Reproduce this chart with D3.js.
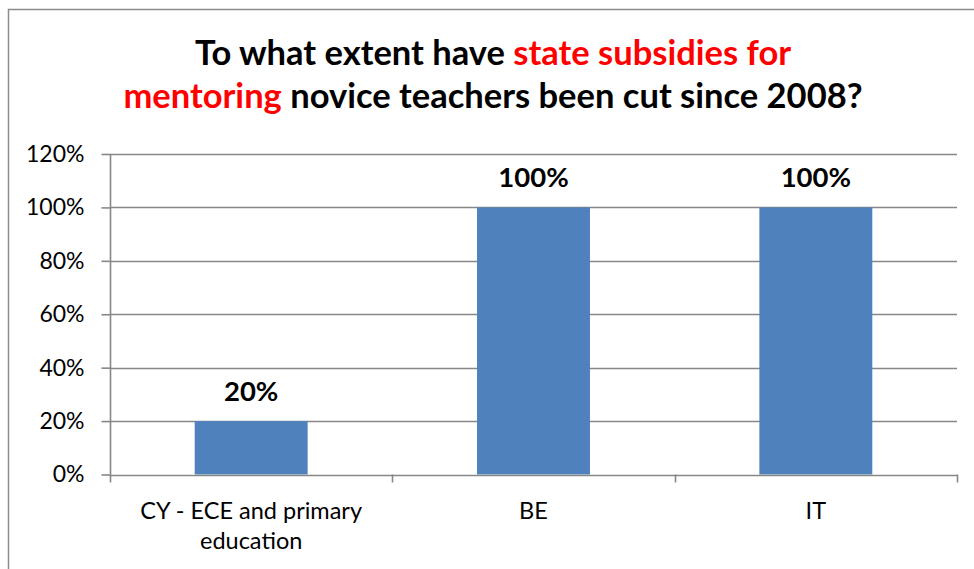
<!DOCTYPE html>
<html>
<head>
<meta charset="utf-8">
<script src="https://cdn.jsdelivr.net/npm/d3@7"></script>
<style>
  html, body { margin: 0; padding: 0; background: #fff; }
  svg { display: block; }
  text { font-family: Lato, "Open Sans", sans-serif; }
</style>
</head>
<body>
<svg id="chart" width="974" height="569"></svg>
<script>
// Chart data
const categories = ["CY - ECE and primary education", "BE", "IT"];
const categoryLines = [["CY - ECE and primary", "education"], ["BE"], ["IT"]];
const values = [0.20, 1.00, 1.00];
const yTicks = [0, 0.2, 0.4, 0.6, 0.8, 1.0, 1.2];
const titleLine1 = [["To what extent have ", "#000"], ["state subsidies for", "#ff0000"]];
const titleLine2 = [["mentoring", "#ff0000"], [" novice teachers been cut since 2008?", "#000"]];

const svg = d3.select("#chart");
const W = 974, H = 569;
const plot = { left: 110, right: 957, top: 154, bottom: 474.5 };
const gridColor = "#878787";
const barColor = "#4f81bd";

svg.append("rect").attr("width", W).attr("height", H).attr("fill", "#fff");

// Outer chart frame (runs off the right and bottom edges)
svg.append("path")
  .attr("d", `M8.5,${H + 2} V9.5 H${W + 2}`)
  .attr("fill", "none").attr("stroke", "#8c8c8c").attr("stroke-width", 1.5);

// Title
const title = svg.append("text").attr("text-anchor", "middle")
  .attr("font-weight", "bold").attr("font-size", 34.5);
[titleLine1, titleLine2].forEach((line, i) => {
  const t = title.append("tspan").attr("x", 493).attr("y", i === 0 ? 65 : 108);
  line.forEach(([s, c]) => t.append("tspan").attr("fill", c).text(s));
});

// Scales
const x = d3.scaleBand().domain(categories)
  .range([plot.left, plot.right]).paddingInner(0.6).paddingOuter(0.3);
const y = d3.scaleLinear().domain([0, 1.2]).range([plot.bottom, plot.top]);

// Horizontal gridlines
svg.append("g").selectAll("line").data(yTicks.filter(d => d > 0)).join("line")
  .attr("x1", plot.left).attr("x2", plot.right)
  .attr("y1", d => Math.round(y(d)) + 0.5).attr("y2", d => Math.round(y(d)) + 0.5)
  .attr("stroke", gridColor).attr("stroke-width", 1.6);

// Bars
svg.append("g").selectAll("rect").data(values).join("rect")
  .attr("x", (d, i) => x(categories[i]))
  .attr("width", x.bandwidth())
  .attr("y", d => y(d))
  .attr("height", d => y(0) - y(d))
  .attr("fill", barColor);

// Y axis
const yAxis = svg.append("g").attr("transform", `translate(${plot.left + 0.5},0)`)
  .call(d3.axisLeft(y).tickValues(yTicks).tickFormat(d3.format(".0%")).tickSize(9).tickPadding(17));
yAxis.select(".domain").attr("stroke", gridColor).attr("stroke-width", 1.6)
  .attr("d", `M0,${plot.top}V${plot.bottom}`);
yAxis.selectAll(".tick line").attr("stroke", gridColor).attr("stroke-width", 1.6);
yAxis.selectAll(".tick text").attr("font-size", 23).attr("fill", "#000")
  .attr("font-family", "Lato, sans-serif");

// X axis: baseline plus ticks between categories
const boundaries = d3.range(categories.length + 1).map(i => plot.left + i * x.step());
const xAxis = svg.append("g");
xAxis.append("line").attr("x1", plot.left).attr("x2", plot.right)
  .attr("y1", Math.round(y(0)) + 0.5).attr("y2", Math.round(y(0)) + 0.5)
  .attr("stroke", gridColor).attr("stroke-width", 1.6);
xAxis.selectAll("line.tk").data(boundaries).join("line").attr("class", "tk")
  .attr("x1", d => Math.round(d) + 0.5).attr("x2", d => Math.round(d) + 0.5)
  .attr("y1", y(0)).attr("y2", y(0) + 8)
  .attr("stroke", gridColor).attr("stroke-width", 1.6);

// Category labels
categories.forEach((c, i) => {
  const t = svg.append("text").attr("text-anchor", "middle").attr("font-size", 23.5).attr("fill", "#000");
  categoryLines[i].forEach((s, j) => {
    t.append("tspan").attr("x", x(c) + x.bandwidth() / 2).attr("y", 519 + j * 30).text(s);
  });
});

// Value labels
svg.append("g").selectAll("text").data(values).join("text")
  .attr("x", (d, i) => x(categories[i]) + x.bandwidth() / 2)
  .attr("y", d => y(d) - 20)
  .attr("text-anchor", "middle").attr("font-weight", "bold").attr("font-size", 27.5)
  .attr("fill", "#000")
  .text(d => d3.format(".0%")(d));
</script>
</body>
</html>
